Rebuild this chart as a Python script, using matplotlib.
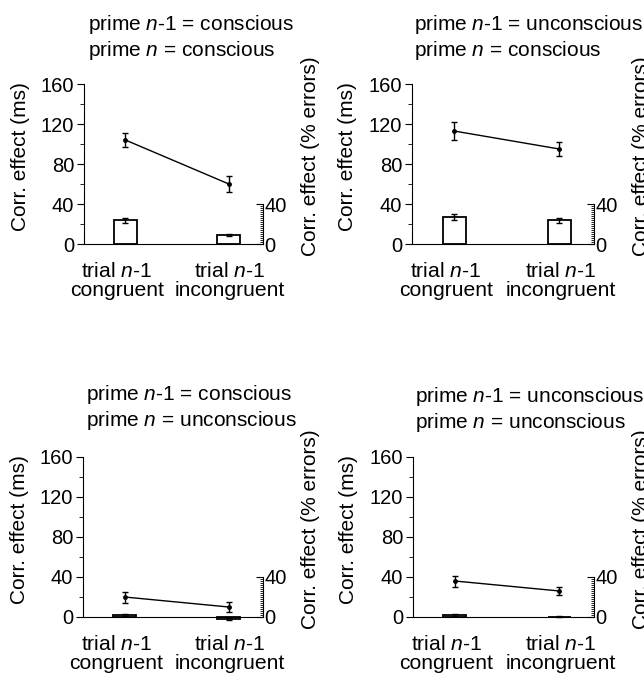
import numpy as np
import matplotlib
matplotlib.use("Agg")
import matplotlib.pyplot as plt
from matplotlib.ticker import MultipleLocator, FixedLocator

plt.rcParams['font.family'] = ['Liberation Sans', 'DejaVu Sans']
plt.rcParams['mathtext.fontset'] = 'custom'
plt.rcParams['mathtext.rm'] = 'Liberation Sans'
plt.rcParams['mathtext.it'] = 'Liberation Sans:italic'

# data
conditions = ["trial $n$-1\ncongruent", "trial $n$-1\nincongruent"]
titles = [
    "prime $n$-1 = conscious\nprime $n$ = conscious",
    "prime $n$-1 = unconscious\nprime $n$ = conscious",
    "prime $n$-1 = conscious\nprime $n$ = unconscious",
    "prime $n$-1 = unconscious\nprime $n$ = unconscious",
]
rt_effect = [[104, 60], [113, 95], [20, 10], [36, 26]]
rt_sem = [[7, 8], [9, 7], [5.5, 5], [5.5, 4]]
err_effect = [[24, 9], [27, 24], [2, -2], [2, 0.5]]
err_sem = [[2.5, 1], [3, 2.5], [0.6, 0.6], [0.6, 0.4]]

fig = plt.figure(figsize=(6.44, 6.76), dpi=100)
W, H = 644, 676

# axes boxes in pixels: left, right, y of value 0
boxes = [(84, 263, 244), (412, 594, 244), (83, 263, 617), (413, 594, 617)]
title_xy = [(88, 13), (414, 13), (86, 383), (415, 385)]
ymin, ymax = -8, 165

xpos = np.arange(2)
for i in range(4):
    left, right, y0 = boxes[i]
    bottom_px = y0 - ymin
    top_px = y0 - ymax
    ax = fig.add_axes([left / W, 1 - bottom_px / H, (right - left) / W,
                       (bottom_px - top_px) / H])
    ax.set_xlim(-0.4, 1.33)
    ax.set_ylim(ymin, ymax)

    ax2 = ax.twinx()

    # error-rate bars (right axis)
    ax2.bar(xpos, err_effect[i], width=0.22, color='white', edgecolor='black',
            linewidth=1.3, zorder=2)
    ax2.errorbar(xpos, err_effect[i], yerr=err_sem[i], fmt='none',
                 ecolor='black', elinewidth=1, capsize=2.5, zorder=3)

    # RT line (left axis)
    ax.errorbar(xpos, rt_effect[i], yerr=rt_sem[i], color='black', lw=1,
                marker='o', ms=2.5, elinewidth=1, capsize=2.5, zorder=4)
    ax.set_zorder(ax2.get_zorder() + 1)
    ax.patch.set_visible(False)

    for a in (ax, ax2):
        a.spines['top'].set_visible(False)
        a.spines['bottom'].set_position(('data', 0))
    ax.spines['right'].set_visible(False)
    ax2.spines['left'].set_visible(False)
    ax2.spines['bottom'].set_visible(False)
    ax.spines['left'].set_bounds(0, 160)
    ax2.spines['right'].set_bounds(0, 40)

    ax.set_yticks([0, 40, 80, 120, 160])
    ax.yaxis.set_minor_locator(MultipleLocator(20))
    ax.tick_params(axis='y', which='major', direction='out', length=5,
                   labelsize=14.5, pad=2)
    ax.tick_params(axis='y', which='minor', direction='out', length=3)

    ax2.set_yticks([0, 40])
    ax2.yaxis.set_minor_locator(FixedLocator(np.arange(2, 40, 2)))
    ax2.set_ylim(ymin, ymax)
    ax2.tick_params(axis='y', which='major', direction='in', length=5,
                    labelsize=14.5, pad=1)
    ax2.tick_params(axis='y', which='minor', direction='in', length=2)

    ax.set_xticks([-0.08, 1.01])
    ax.set_xticklabels(conditions, fontsize=15.2, linespacing=1.02)
    ax.tick_params(axis='x', length=0, pad=13)

    ax.text(-0.355, 0.55, "Corr. effect (ms)", transform=ax.transAxes,
            rotation=90, ha='center', va='center', fontsize=15)
    ax.text((right + 48 - left) / (right - left), 0.555,
            "Corr. effect (% errors)", transform=ax.transAxes, rotation=90,
            ha='center', va='center', fontsize=15, clip_on=False)

    tx, ty = title_xy[i]
    fig.text(tx / W, 1 - ty / H, titles[i], ha='left', va='top', fontsize=15,
             linespacing=1.15)

fig.savefig("out.png", dpi=100)
